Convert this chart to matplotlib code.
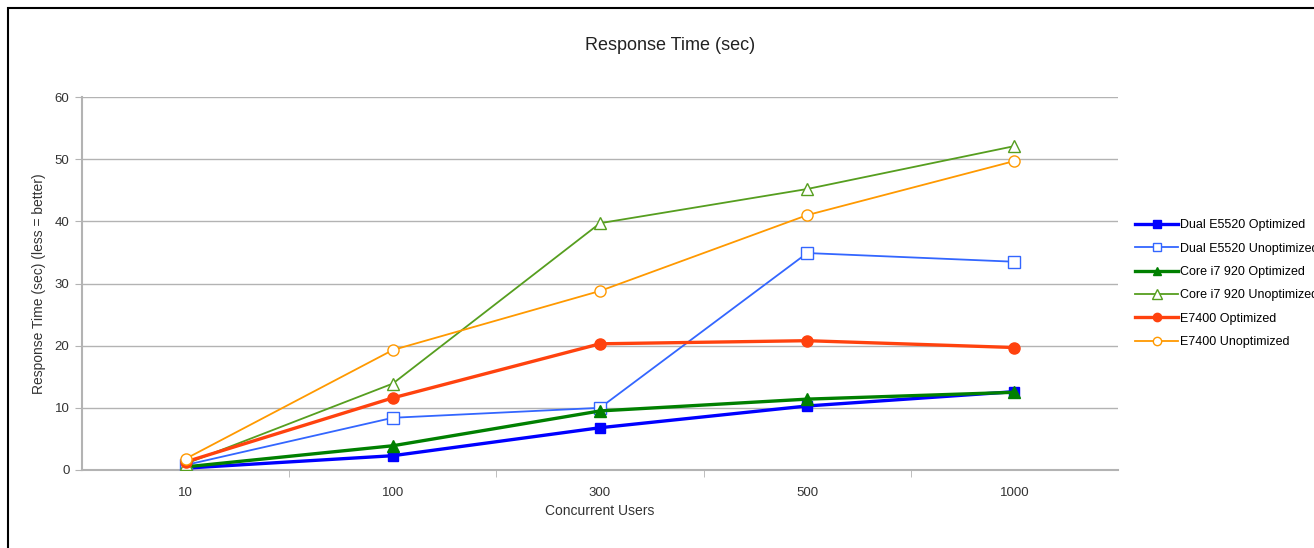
import matplotlib
matplotlib.use("Agg")
import matplotlib.pyplot as plt
from matplotlib.patches import Rectangle

plt.rcParams['font.family'] = ['Liberation Sans', 'DejaVu Sans']

categories = ["10", "100", "300", "500", "1000"]
dual_opt = [0.3, 2.3, 6.8, 10.3, 12.6]
dual_unopt = [0.8, 8.4, 10.0, 34.9, 33.5]
core_opt = [0.5, 3.9, 9.5, 11.4, 12.5]
core_unopt = [1.0, 13.9, 39.7, 45.2, 52.1]
e7400_opt = [1.3, 11.6, 20.3, 20.8, 19.7]
e7400_unopt = [1.8, 19.3, 28.8, 41.0, 49.7]

series = [
    ("Dual E5520 Optimized", dual_opt, "#0000FF", "s", True, 2.4, 7.5),
    ("Dual E5520 Unoptimized", dual_unopt, "#3366FF", "s", False, 1.3, 8),
    ("Core i7 920 Optimized", core_opt, "#008000", "^", True, 2.4, 8),
    ("Core i7 920 Unoptimized", core_unopt, "#569E1F", "^", False, 1.3, 9),
    ("E7400 Optimized", e7400_opt, "#FF420E", "o", True, 2.4, 8),
    ("E7400 Unoptimized", e7400_unopt, "#FF9900", "o", False, 1.3, 8),
]

fig = plt.figure(figsize=(13.14, 5.48), dpi=100)
ax = fig.add_axes([82/1314, 1-470/548, (1118-82)/1314, (470-97)/548])

x = list(range(len(categories)))
for label, vals, color, marker, filled, lw, ms in series:
    ax.plot(x, vals, color=color, lw=lw, marker=marker, ms=ms,
            markerfacecolor=color if filled else "white",
            markeredgecolor=color, markeredgewidth=1.0,
            label=label, zorder=3)

ax.set_xlim(-0.5, len(categories) - 0.5)
ax.set_ylim(0, 60)
ax.set_yticks(range(0, 61, 10))
ax.set_xticks(x)
ax.set_xticklabels(categories)
ax.set_xticks([i + 0.5 for i in range(len(categories) - 1)], minor=True)
ax.tick_params(axis='x', which='major', length=0, labelsize=9.5, colors='#333333', pad=12)
ax.tick_params(axis='x', which='minor', length=5, color='#b3b3b3', direction='out')
ax.tick_params(axis='y', which='major', length=5, color='#b3b3b3', labelsize=9.5,
               labelcolor='#333333', pad=4)
ax.grid(axis='y', color='#b3b3b3', lw=1.0)
ax.set_axisbelow(True)
for s in ['top', 'right']:
    ax.spines[s].set_visible(False)
for s in ['left', 'bottom']:
    ax.spines[s].set_color('#b3b3b3')
    ax.spines[s].set_linewidth(1.5)

ax.set_xlabel("Concurrent Users", fontsize=10, color='#333333', labelpad=4)
ax.set_ylabel("Response Time (sec) (less = better)", fontsize=10, color='#333333', labelpad=6)
fig.text(670/1314, 1-45/548, "Response Time (sec)", ha='center', va='center', fontsize=13, color='#222222')

leg = ax.legend(loc='upper left', bbox_to_anchor=(1124/1314, 1-208/548),
                bbox_transform=fig.transFigure, frameon=False, fontsize=9,
                handlelength=3.4, handletextpad=0.15, labelspacing=0.91,
                markerscale=0.75)

fig.patches.append(Rectangle((8/1314, -0.1), 1.2, 1 - 8/548 + 0.1,
                             transform=fig.transFigure, fill=False,
                             edgecolor='black', lw=1.5))

fig.savefig("out.png", dpi=100)
